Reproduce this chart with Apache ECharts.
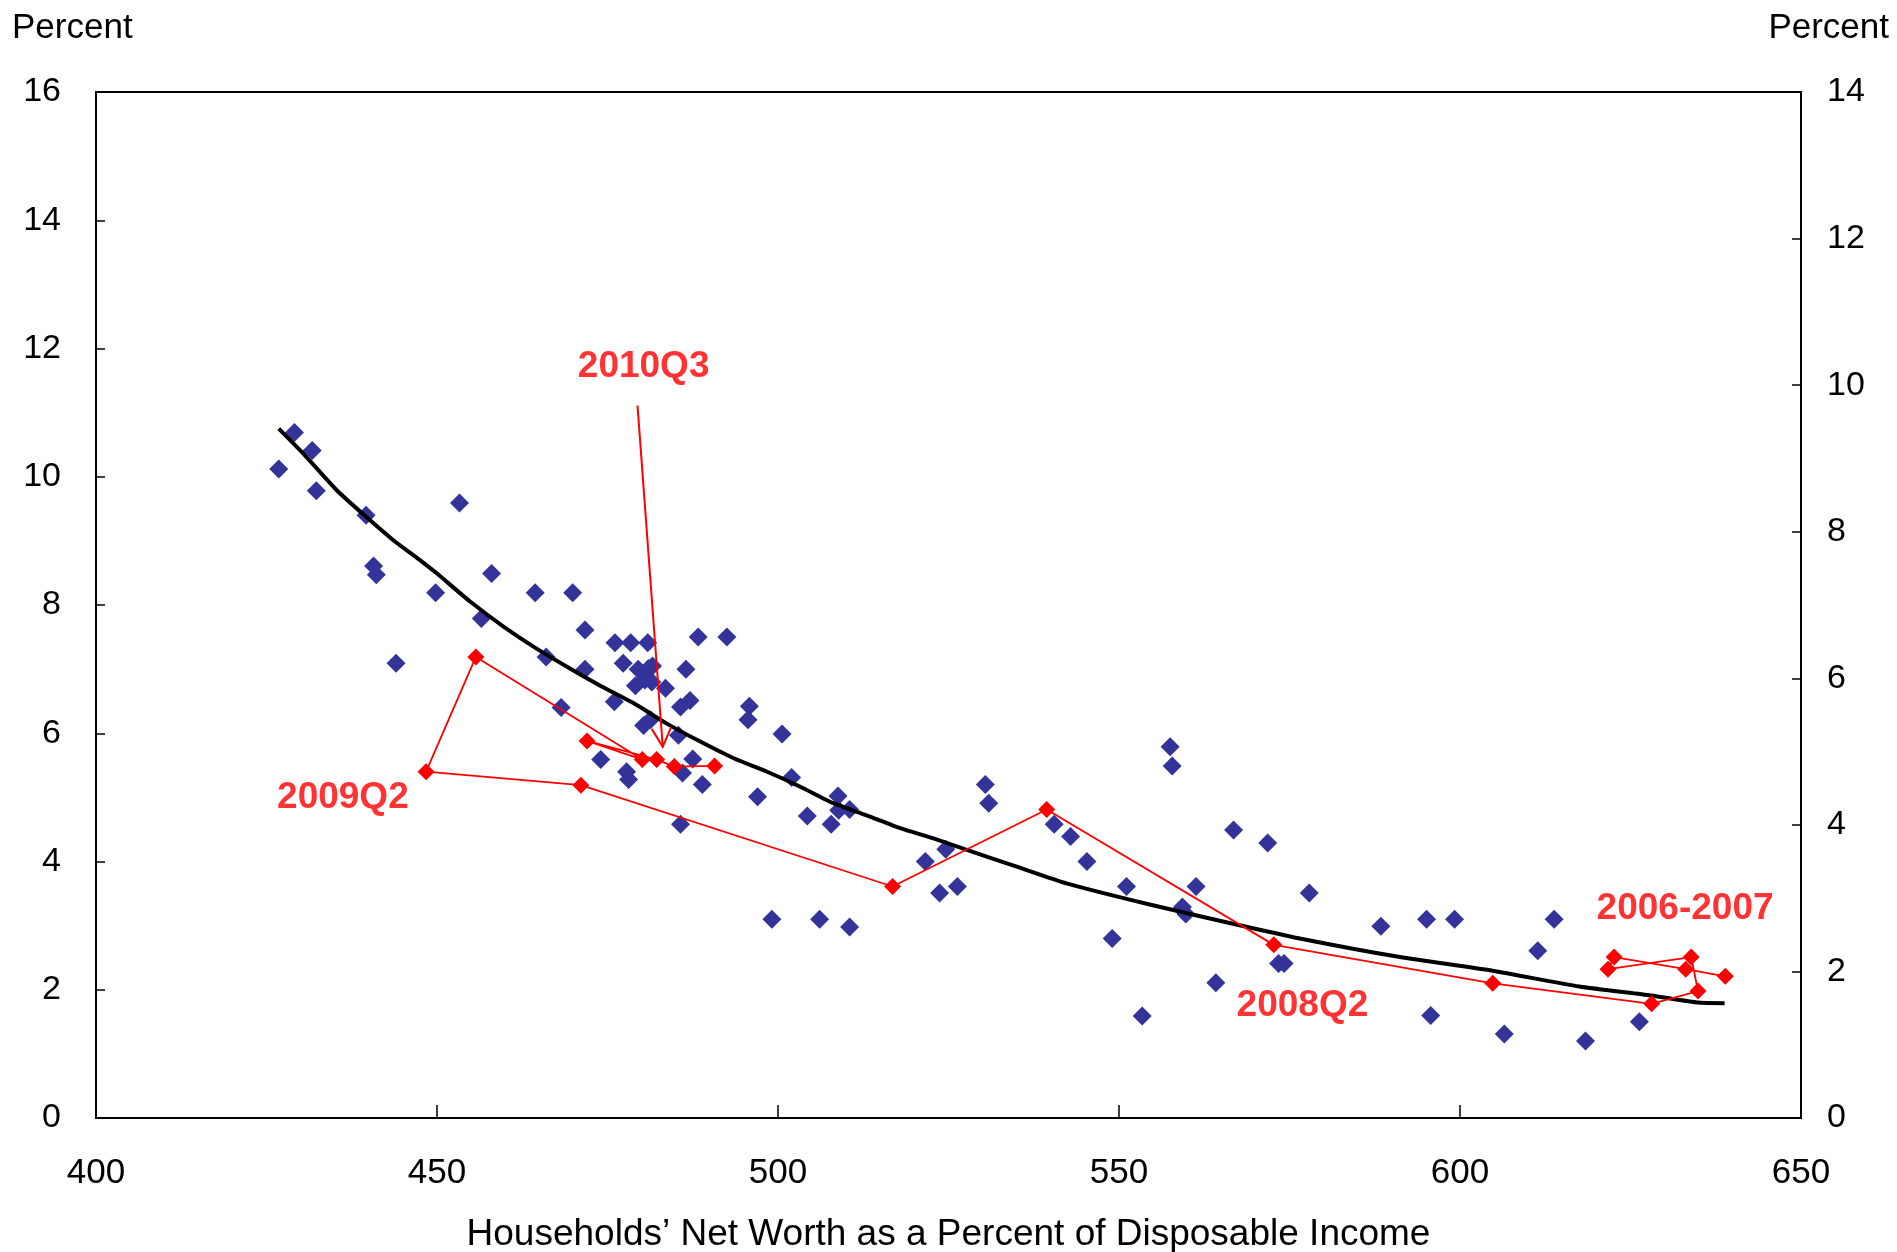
<!DOCTYPE html>
<html>
<head>
<meta charset="utf-8">
<title>Net worth and saving rate</title>
<script src="https://cdn.jsdelivr.net/npm/echarts@6/dist/echarts.min.js"></script>
<style>
  html, body { margin: 0; padding: 0; background: #fff; }
  #chart { width: 1897px; height: 1252px; }
</style>
</head>
<body>
<div id="chart"></div>
<script>
// quarterly observations (x: net worth / disposable income, y: saving rate)
var histX = [429.1, 431.7, 426.8, 432.3, 439.6, 453.3, 440.7, 441.1, 449.8, 458.0,
  464.4, 469.9, 444.0, 456.5, 471.7, 466.0, 471.7, 476.0, 468.2, 474.0,
  477.8, 478.1, 485.7, 487.5, 486.0, 488.9, 485.4, 480.3, 481.3, 485.7,
  487.1, 476.1, 478.4, 480.9, 488.3, 492.5, 477.3, 479.5, 481.0, 481.6,
  486.5, 479.1, 480.5, 481.5, 483.5, 495.8, 495.6, 500.6, 502.0, 497.0,
  504.3, 507.8, 508.8, 510.5, 508.9, 499.1, 506.1, 510.5, 521.6, 524.6,
  523.7, 526.3, 530.4, 530.9, 540.5, 542.9, 545.3, 551.1, 549.0, 553.4,
  557.5, 557.8, 559.3, 559.8, 561.3, 564.2, 566.8, 571.8, 573.4, 574.2,
  577.9, 588.4, 595.1, 599.2, 613.8, 611.4, 595.7, 606.5, 618.4, 626.3];
var histY = [10.69, 10.41, 10.12, 9.78, 9.40, 9.59, 8.61, 8.47, 8.19, 8.49,
  8.19, 8.19, 7.09, 7.79, 7.61, 7.19, 7.00, 6.49, 6.40, 5.59,
  5.40, 5.28, 4.58, 5.60, 5.38, 5.20, 5.97, 6.12, 6.21, 6.41,
  6.51, 7.41, 7.41, 7.41, 7.50, 7.50, 7.09, 7.00, 7.01, 7.05,
  7.00, 6.74, 6.83, 6.80, 6.70, 6.42, 6.21, 5.99, 5.31, 5.01,
  4.71, 4.58, 5.02, 4.81, 4.80, 3.10, 3.10, 2.98, 4.00, 4.19,
  3.51, 3.61, 5.20, 4.91, 4.58, 4.39, 4.00, 3.61, 2.80, 1.59,
  5.79, 5.49, 3.29, 3.18, 3.61, 2.11, 4.49, 4.29, 2.41, 2.41,
  3.51, 2.99, 3.10, 3.10, 3.10, 2.61, 1.60, 1.31, 1.20, 1.50];

// 2006 onward, in time order
var recentX = [638.9, 633.1, 622.6, 621.7, 633.9, 634.9, 628.1, 604.8, 572.7, 539.4,
  516.8, 471.1, 448.4, 455.7, 480.1, 472.0, 482.2, 484.8, 490.7];
var recentY = [2.21, 2.32, 2.51, 2.32, 2.51, 1.98, 1.78, 2.10, 2.70, 4.81,
  3.61, 5.19, 5.40, 7.19, 5.59, 5.88, 5.59, 5.48, 5.49];

// fitted curve
var fitX = [426.8, 430.4, 435.3, 440.2, 443.6, 447.5, 450.0, 454.9, 459.8, 464.6,
  469.5, 473.8, 478.8, 483.7, 488.6, 493.5, 498.4, 503.2, 508.1, 513.0,
  517.9, 522.8, 527.7, 535.0, 542.3, 554.5, 566.7, 576.5, 591.2, 604.6,
  617.5, 628.0, 635.0, 638.8];
var fitY = [10.75, 10.36, 9.79, 9.32, 9.01, 8.70, 8.49, 8.05, 7.66, 7.32,
  7.01, 6.75, 6.47, 6.15, 5.87, 5.61, 5.40, 5.17, 4.91, 4.72,
  4.52, 4.36, 4.18, 3.92, 3.66, 3.33, 3.03, 2.80, 2.51, 2.30,
  2.05, 1.91, 1.80, 1.79];

// annotations
var noteText = ['2010Q3', '2009Q2', '2008Q2', '2006-2007'];
var noteX = [480.3, 436.2, 576.9, 633.0];
var noteY = [11.72, 5.0, 1.75, 3.26];
var arrowFrom = [479.4, 11.11];
var arrowTo = [483.1, 5.79];

var xRange = [400, 650, 50];
var leftRange = [0, 16, 2];
var rightRange = [0, 14, 2];

var font = 'Liberation Sans, Arial, sans-serif';

function pairs(xs, ys) {
  var out = [];
  for (var i = 0; i < xs.length; i++) {
    out.push([xs[i], ys[i]]);
  }
  return out;
}

var notes = [];
for (var i = 0; i < noteText.length; i++) {
  notes.push({ name: noteText[i], value: [noteX[i], noteY[i]] });
}

var chart = echarts.init(document.getElementById('chart'));

var option = {
  animation: false,
  backgroundColor: '#fff',
  grid: {
    left: 96, right: 96, top: 92, bottom: 134,
    outerBoundsMode: 'none',
    show: true, borderColor: '#000', borderWidth: 2
  },
  graphic: [
    { type: 'text', left: 12, top: 11, style: { text: 'Percent', font: '35px ' + font, fill: '#000' } },
    { type: 'text', right: 8, top: 11, style: { text: 'Percent', font: '35px ' + font, fill: '#000' } }
  ],
  xAxis: {
    type: 'value',
    min: xRange[0], max: xRange[1], interval: xRange[2],
    name: 'Households\u2019 Net Worth as a Percent of Disposable Income',
    nameLocation: 'middle', nameGap: 98,
    nameTextStyle: { fontFamily: font, fontSize: 37, color: '#000' },
    axisLine: { lineStyle: { color: '#000', width: 2 } },
    axisTick: { inside: true, length: 13, lineStyle: { color: '#000', width: 1.5 } },
    axisLabel: { fontFamily: font, fontSize: 35, color: '#000', margin: 38 },
    splitLine: { show: false }
  },
  yAxis: [
    {
      type: 'value', position: 'left',
      min: leftRange[0], max: leftRange[1], interval: leftRange[2],
      axisLine: { show: true, lineStyle: { color: '#000', width: 2 } },
      axisTick: { show: true, inside: true, length: 9, lineStyle: { color: '#000', width: 1.5 } },
      axisLabel: { fontFamily: font, fontSize: 34, color: '#000', margin: 35 },
      splitLine: { show: false }
    },
    {
      type: 'value', position: 'right',
      min: rightRange[0], max: rightRange[1], interval: rightRange[2],
      axisLine: { show: true, lineStyle: { color: '#000', width: 2 } },
      axisTick: { show: true, inside: true, length: 9, lineStyle: { color: '#000', width: 1.5 } },
      axisLabel: { fontFamily: font, fontSize: 34, color: '#000', margin: 26 },
      splitLine: { show: false }
    }
  ],
  series: [
    {
      type: 'scatter',
      data: pairs(histX, histY),
      symbol: 'diamond',
      symbolSize: 19,
      itemStyle: { color: '#333399', opacity: 1 },
      z: 2
    },
    {
      type: 'line',
      data: pairs(fitX, fitY),
      smooth: 0.2,
      showSymbol: false,
      lineStyle: { color: '#000', width: 4 },
      z: 3
    },
    {
      type: 'line',
      data: pairs(recentX, recentY),
      symbol: 'diamond',
      symbolSize: 17,
      showAllSymbol: true,
      lineStyle: { color: '#ff0000', width: 1.8 },
      itemStyle: { color: '#ff0000', opacity: 1 },
      z: 4
    },
    {
      type: 'custom',
      data: [[arrowFrom[0], arrowFrom[1], arrowTo[0], arrowTo[1]]],
      encode: { x: [0, 2], y: [1, 3] },
      z: 5,
      renderItem: function (params, api) {
        var a = api.coord([api.value(0), api.value(1)]);
        var b = api.coord([api.value(2), api.value(3)]);
        var ang = Math.atan2(b[1] - a[1], b[0] - a[0]);
        var len = 21, spread = 0.48;
        var p1 = [b[0] - len * Math.cos(ang - spread), b[1] - len * Math.sin(ang - spread)];
        var p2 = [b[0] - len * Math.cos(ang + spread), b[1] - len * Math.sin(ang + spread)];
        return {
          type: 'group',
          children: [
            { type: 'line', shape: { x1: a[0], y1: a[1], x2: b[0], y2: b[1] },
              style: { stroke: '#ff0000', lineWidth: 2 } },
            { type: 'polyline', shape: { points: [p1, b, p2] },
              style: { stroke: '#ff0000', lineWidth: 2, fill: null } }
          ]
        };
      }
    },
    {
      type: 'scatter',
      data: notes,
      symbolSize: 1,
      itemStyle: { color: 'rgba(0,0,0,0)' },
      label: {
        show: true,
        position: 'inside',
        formatter: '{b}',
        fontFamily: font,
        fontSize: 37,
        fontWeight: 'bold',
        color: '#ff0000'
      },
      z: 6
    }
  ]
};

chart.setOption(option);
</script>
</body>
</html>
